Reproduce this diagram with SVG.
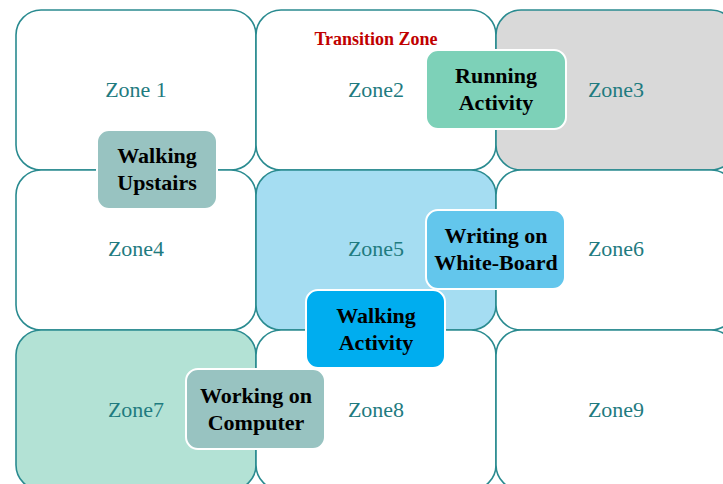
<svg xmlns="http://www.w3.org/2000/svg" width="723" height="484" viewBox="0 0 723 484">
  <defs>
    <style>
      .zone { stroke: #2a8b90; stroke-width: 1.6; fill: #ffffff; }
      .zlabel { font-family: "Liberation Serif", "DejaVu Serif", serif; font-size: 22px; fill: #1f7b7f; text-anchor: middle; }
      .act { stroke: #ffffff; stroke-width: 2; }
      .alabel { font-family: "Liberation Serif", "DejaVu Serif", serif; font-size: 22px; font-weight: bold; fill: #000000; text-anchor: middle; }
      .title { font-family: "Liberation Serif", "DejaVu Serif", serif; font-size: 18px; font-weight: bold; fill: #c00000; text-anchor: middle; }
    </style>
  </defs>
  <rect width="723" height="484" fill="#ffffff"/>

  <!-- 3x3 zone grid -->
  <g id="zone1"><rect class="zone" x="16" y="10" width="240" height="160" rx="25"/><text class="zlabel" x="136" y="97">Zone 1</text></g>
  <g id="zone2"><rect class="zone" x="256" y="10" width="240" height="160" rx="25"/><text class="zlabel" x="376" y="97">Zone2</text></g>
  <g id="zone3"><rect class="zone" x="496" y="10" width="240" height="160" rx="25" style="fill:#d9d9d9"/><text class="zlabel" x="616" y="97">Zone3</text></g>
  <g id="zone4"><rect class="zone" x="16" y="170" width="240" height="160" rx="25"/><text class="zlabel" x="136" y="256">Zone4</text></g>
  <g id="zone5"><rect class="zone" x="256" y="170" width="240" height="160" rx="25" style="fill:#a5ddf2"/><text class="zlabel" x="376" y="256">Zone5</text></g>
  <g id="zone6"><rect class="zone" x="496" y="170" width="240" height="160" rx="25"/><text class="zlabel" x="616" y="256">Zone6</text></g>
  <g id="zone7"><rect class="zone" x="16" y="330" width="240" height="160" rx="25" style="fill:#b3e2d5"/><text class="zlabel" x="136" y="417">Zone7</text></g>
  <g id="zone8"><rect class="zone" x="256" y="330" width="240" height="160" rx="25"/><text class="zlabel" x="376" y="417">Zone8</text></g>
  <g id="zone9"><rect class="zone" x="496" y="330" width="240" height="160" rx="25"/><text class="zlabel" x="616" y="417">Zone9</text></g>

  <g id="transition-label"><text class="title" x="376" y="45">Transition Zone</text></g>

  <!-- activity boxes -->
  <g id="walking-upstairs">
    <rect class="act" x="97" y="130" width="120" height="79" rx="12" fill="#98c3c1"/>
    <text class="alabel" x="157" y="163">Walking</text>
    <text class="alabel" x="157" y="190">Upstairs</text>
  </g>
  <g id="running-activity">
    <rect class="act" x="426" y="50" width="140" height="79" rx="12" fill="#7dd1b8"/>
    <text class="alabel" x="496" y="83">Running</text>
    <text class="alabel" x="496" y="110">Activity</text>
  </g>
  <g id="writing-whiteboard">
    <rect class="act" x="426" y="210" width="139" height="79" rx="12" fill="#63c6ec"/>
    <text class="alabel" x="496" y="243">Writing on</text>
    <text class="alabel" x="496" y="270">White-Board</text>
  </g>
  <g id="walking-activity">
    <rect class="act" x="306" y="290" width="139" height="78" rx="12" fill="#00adef"/>
    <text class="alabel" x="376" y="323">Walking</text>
    <text class="alabel" x="376" y="350">Activity</text>
  </g>
  <g id="working-computer">
    <rect class="act" x="186" y="369" width="139" height="80" rx="12" fill="#98c3c1"/>
    <text class="alabel" x="256" y="403">Working on</text>
    <text class="alabel" x="256" y="430">Computer</text>
  </g>

  <g id="connectors"></g>
</svg>
